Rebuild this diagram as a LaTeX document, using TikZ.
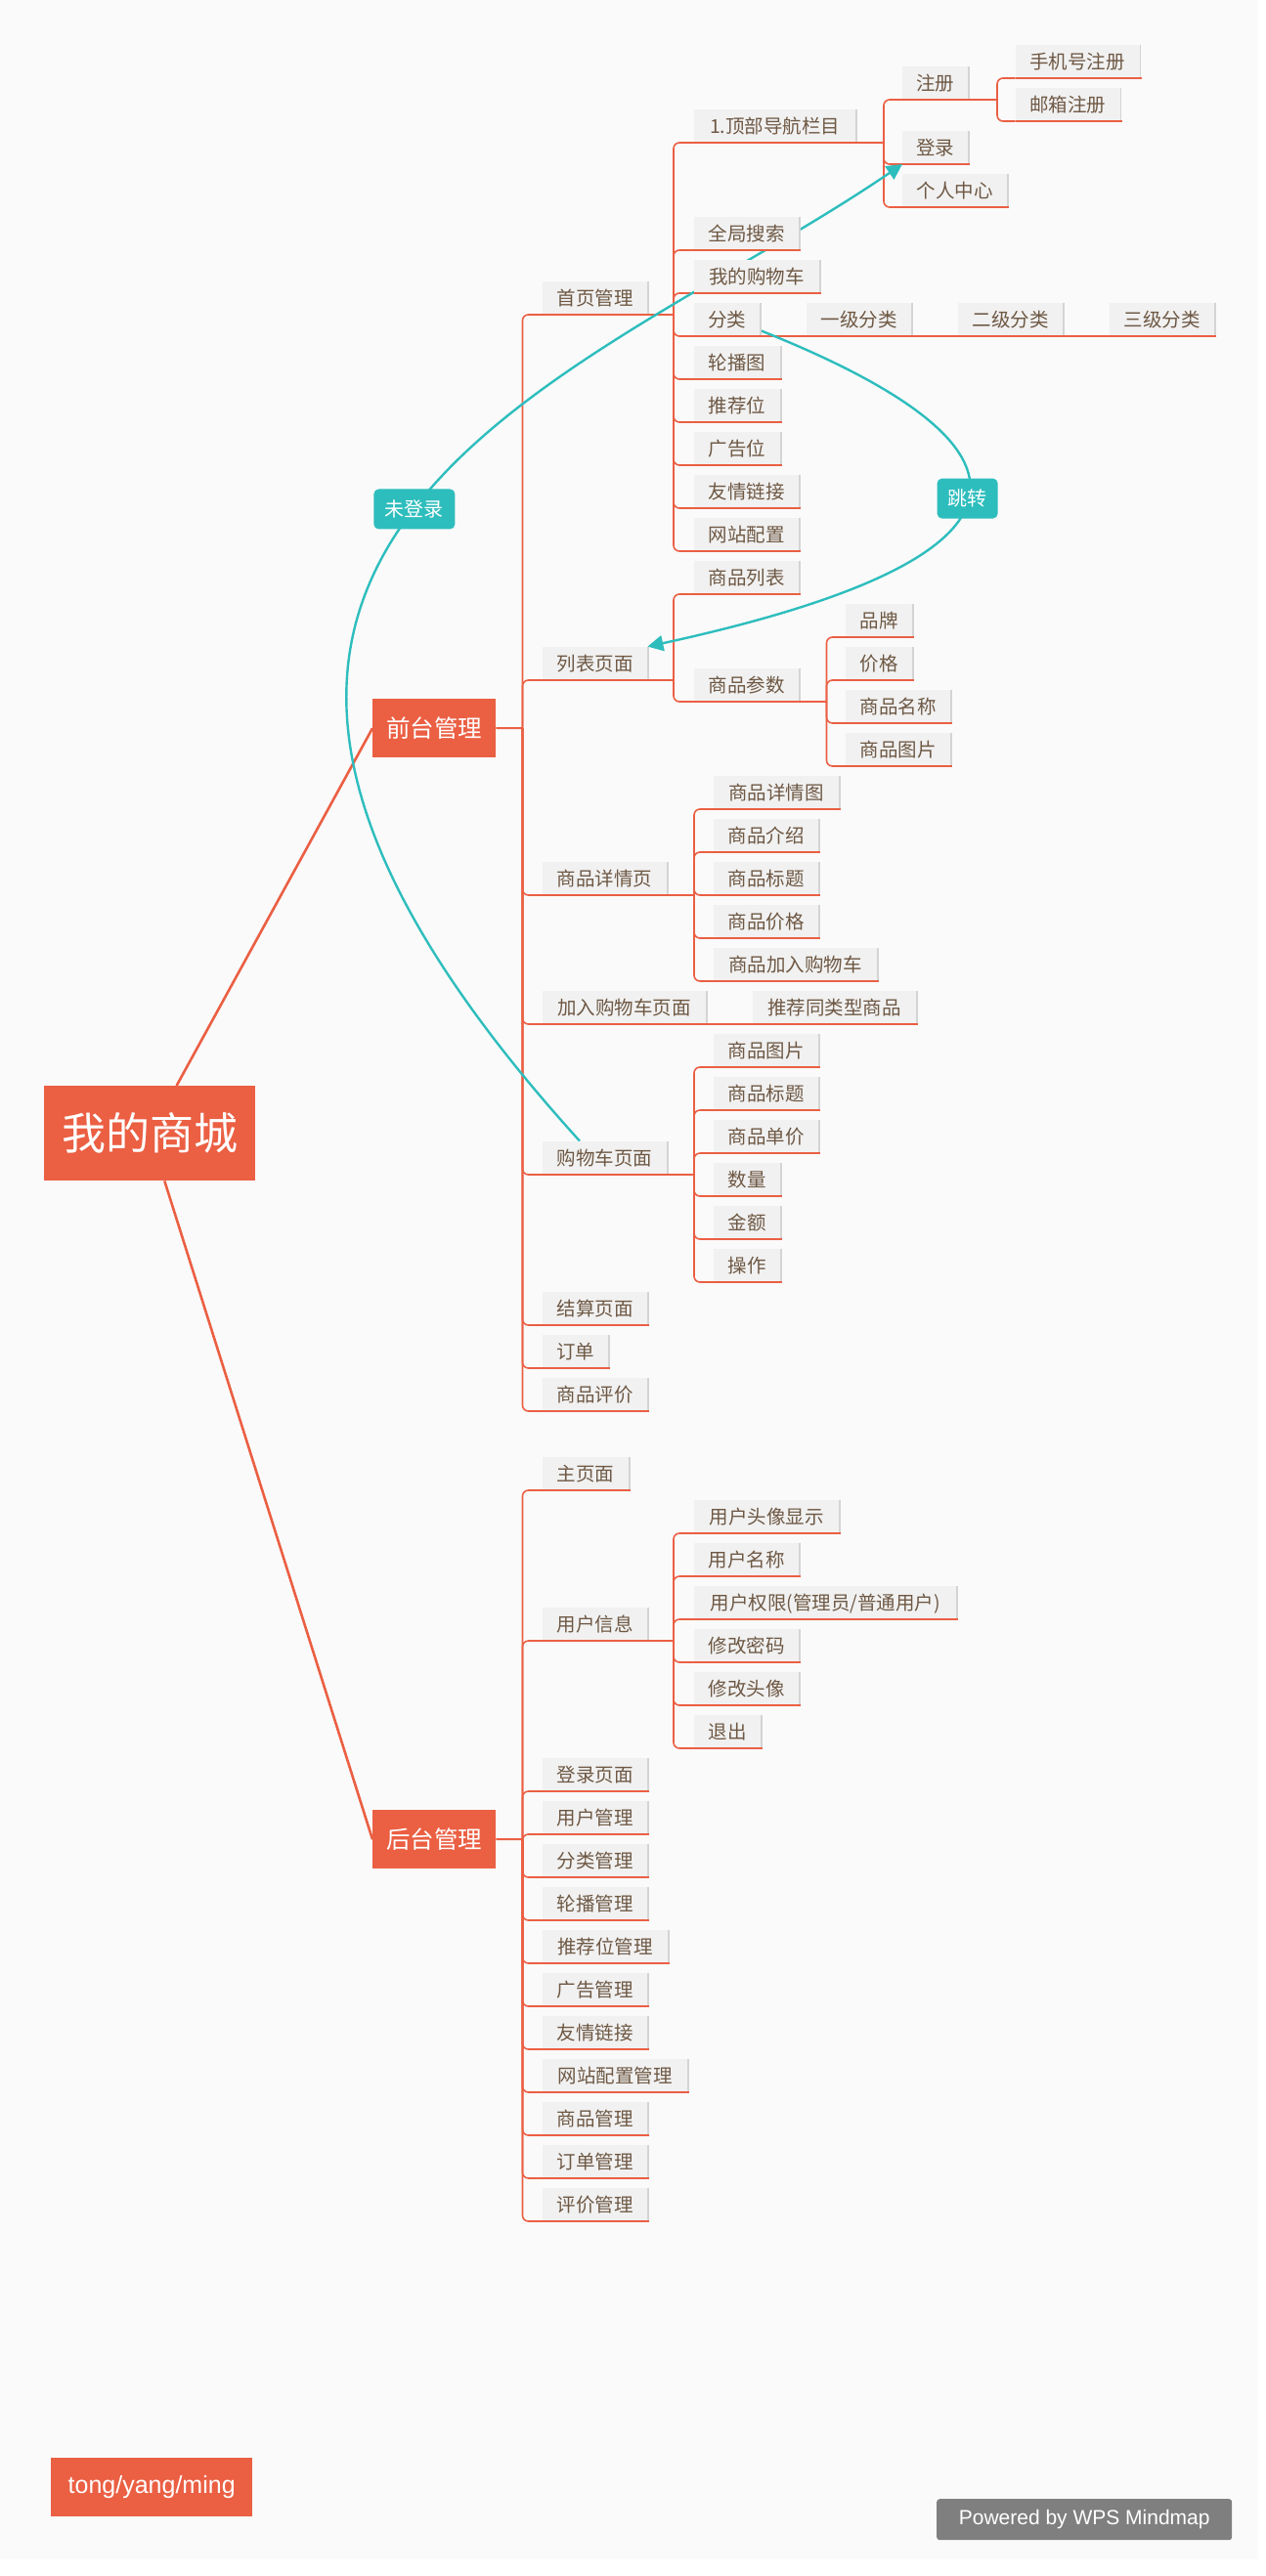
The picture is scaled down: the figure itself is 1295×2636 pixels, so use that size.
\documentclass[tikz,border=0pt]{standalone}
\usepackage{fontspec}
\setmainfont{Liberation Sans}
\newfontfamily\cjk{Noto Sans CJK SC}
\usetikzlibrary{arrows.meta}
\definecolor{bgc}{HTML}{FAFAFA}
\definecolor{orangec}{HTML}{EB5F43}
\definecolor{boxfill}{HTML}{F1F1F1}
\definecolor{shadowc}{HTML}{D4D4D4}
\definecolor{txtc}{HTML}{6E5844}
\definecolor{tealc}{HTML}{2EBDBD}
\definecolor{grayc}{HTML}{7F7F7F}
\pgfdeclarelayer{bg}
\pgfdeclarelayer{curves}
\pgfdeclarelayer{fg}
\pgfsetlayers{bg,curves,main,fg}
\tikzset{
  topic/.style={anchor=south west, fill=boxfill, text=txtc,
    font=\cjk\fontsize{19.5pt}{21pt}\selectfont, inner xsep=0pt, inner ysep=0pt,
    minimum height=34pt, text height=15.6pt, text depth=1pt},
  maintopic/.style={anchor=north west, fill=orangec, text=white,
    font=\cjk\fontsize{24.5pt}{26pt}\selectfont, inner xsep=0pt, inner ysep=0pt,
    minimum width=126pt, minimum height=60pt, text height=19.6pt, text depth=1.2pt},
  tlabel/.style={fill=tealc, text=white, rounded corners=5pt,
    font=\cjk\fontsize{20pt}{22pt}\selectfont, inner xsep=0pt, inner ysep=0pt,
    minimum height=41pt, text height=16pt, text depth=1pt},
  branch/.style={draw=orangec, line width=1.6pt},
  mainline/.style={draw=orangec, line width=2.6pt},
  rel/.style={draw=tealc, line width=2.4pt, -{Triangle[length=16pt,width=16pt]}},
  uline/.style={draw=orangec, line width=1.8pt},
  shade/.style={draw=shadowc, line width=1.5pt}
}
\begin{document}
\begin{tikzpicture}[x=1pt,y=-1pt]
\useasboundingbox (0,0) rectangle (1295,2636);

% ---------- root and main topics ----------
\node[anchor=north west, fill=orangec, text=white, font=\cjk\fontsize{45pt}{48pt}\selectfont,
  inner sep=0pt, minimum width=216pt, minimum height=97pt, text height=36pt, text depth=2pt]
  (root) at (45,1111) {我的商城};
\node[maintopic] (qt) at (381,715) {前台管理};
\node[maintopic] (ht) at (381,1852) {后台管理};

% ---------- front end level 1 ----------
\node[topic, minimum width=107pt] (syg) at (555,322) {首页管理};
\node[topic, minimum width=107pt] (lbym) at (555,696) {列表页面};
\node[topic, minimum width=127pt] (spxqy) at (555,916) {商品详情页};
\node[topic, minimum width=167pt] (jrgwcym) at (555,1048) {加入购物车页面};
\node[topic, minimum width=127pt] (gwcym) at (555,1202) {购物车页面};
\node[topic, minimum width=107pt] (jsym) at (555,1356) {结算页面};
\node[topic, minimum width=67pt] (dd) at (555,1400) {订单};
\node[topic, minimum width=107pt] (sppj) at (555,1444) {商品评价};

% ---------- home page ----------
\node[topic, minimum width=165pt] (dbdh) at (710,146) {1.顶部导航栏目};
\node[topic, minimum width=107pt] (qjss) at (710,256) {全局搜索};
\node[topic, minimum width=128pt] (wdgwc) at (710,300) {我的购物车};
\node[topic, minimum width=67pt] (fl) at (710,344) {分类};
\node[topic, minimum width=88pt] (lbt) at (710,388) {轮播图};
\node[topic, minimum width=88pt] (tjw) at (710,432) {推荐位};
\node[topic, minimum width=88pt] (ggw) at (710,476) {广告位};
\node[topic, minimum width=107pt] (yqlj) at (710,520) {友情链接};
\node[topic, minimum width=107pt] (wzpz) at (710,564) {网站配置};

\node[topic, minimum width=67pt] (zc) at (923,102) {注册};
\node[topic, minimum width=67pt] (dl) at (923,168) {登录};
\node[topic, minimum width=107pt] (grzx) at (923,212) {个人中心};
\node[topic, minimum width=127pt] (sjhzc) at (1038.5,80) {手机号注册};
\node[topic, minimum width=107pt] (yxzc) at (1038.5,124) {邮箱注册};

\node[topic, minimum width=107pt] (yjfl) at (825,344) {一级分类};
\node[topic, minimum width=107pt] (ejfl) at (980,344) {二级分类};
\node[topic, minimum width=107pt] (sjfl) at (1135,344) {三级分类};

% ---------- list page ----------
\node[topic, minimum width=107pt] (splb) at (710,608) {商品列表};
\node[topic, minimum width=107pt] (spcs) at (710,718) {商品参数};
\node[topic, minimum width=68pt] (pp) at (865,652) {品牌};
\node[topic, minimum width=68pt] (jg) at (865,696) {价格};
\node[topic, minimum width=107pt] (spmc) at (865,740) {商品名称};
\node[topic, minimum width=107pt] (sptp) at (865,784) {商品图片};

% ---------- detail page ----------
\node[topic, minimum width=128pt] (spxqt) at (730,828) {商品详情图};
\node[topic, minimum width=107pt] (spjs) at (730,872) {商品介绍};
\node[topic, minimum width=107pt] (spbt) at (730,916) {商品标题};
\node[topic, minimum width=107pt] (spjg) at (730,960) {商品价格};
\node[topic, minimum width=167pt] (spjrgwc) at (730,1004) {商品加入购物车};

\node[topic, minimum width=167pt] (tjtlx) at (770,1048) {推荐同类型商品};

% ---------- cart page ----------
\node[topic, minimum width=107pt] (cspt) at (730,1092) {商品图片};
\node[topic, minimum width=107pt] (csbt) at (730,1136) {商品标题};
\node[topic, minimum width=107pt] (csdj) at (730,1180) {商品单价};
\node[topic, minimum width=68pt] (csl) at (730,1224) {数量};
\node[topic, minimum width=68pt] (cje) at (730,1268) {金额};
\node[topic, minimum width=68pt] (ccz) at (730,1312) {操作};

% ---------- back end ----------
\node[topic, minimum width=88pt] (zym) at (555,1525) {主页面};
\node[topic, minimum width=107pt] (yhxx) at (555,1679) {用户信息};
\node[topic, minimum width=107pt] (dlym) at (555,1833) {登录页面};
\node[topic, minimum width=107pt] (yhgl) at (555,1877) {用户管理};
\node[topic, minimum width=107pt] (flgl) at (555,1921) {分类管理};
\node[topic, minimum width=107pt] (lbgl) at (555,1965) {轮播管理};
\node[topic, minimum width=128pt] (tjwgl) at (555,2009) {推荐位管理};
\node[topic, minimum width=107pt] (gggl) at (555,2053) {广告管理};
\node[topic, minimum width=107pt] (yqljb) at (555,2097) {友情链接};
\node[topic, minimum width=148pt] (wzpzgl) at (555,2141) {网站配置管理};
\node[topic, minimum width=107pt] (spgl) at (555,2185) {商品管理};
\node[topic, minimum width=107pt] (ddgl) at (555,2229) {订单管理};
\node[topic, minimum width=107pt] (pjgl) at (555,2273) {评价管理};

\node[topic, minimum width=148pt] (yhtx) at (710,1569) {用户头像显示};
\node[topic, minimum width=107pt] (yhmc) at (710,1613) {用户名称};
\node[topic, minimum width=268pt] (yhqx) at (710,1657) {用户权限(管理员/普通用户)};
\node[topic, minimum width=107pt] (xgmm) at (710,1701) {修改密码};
\node[topic, minimum width=107pt] (xgtx) at (710,1745) {修改头像};
\node[topic, minimum width=68pt] (tc) at (710,1789) {退出};

% ---------- footer ----------
\node[anchor=north west, fill=orangec, text=white, font=\fontsize{25pt}{27pt}\selectfont,
  inner sep=0pt, minimum width=206pt, minimum height=60pt, text height=18pt, text depth=5pt]
  (author) at (52,2515) {tong/yang/ming};
\node[anchor=north west, fill=grayc, text=white, rounded corners=3pt, font=\fontsize{21pt}{23pt}\selectfont,
  inner sep=0pt, minimum width=302pt, minimum height=42pt, text height=15pt, text depth=4pt]
  (powered) at (958,2557) {Powered by WPS Mindmap};

% ---------- junction points ----------
\coordinate (jqt) at (534.5,745);
\coordinate (jht) at (534.5,1882);
\coordinate (jsy) at (689,322);
\coordinate (jdb) at (904,146);
\coordinate (jzc) at (1020,102);
\coordinate (jlb) at (689,696);
\coordinate (jcs) at (845.5,718);
\coordinate (jxq) at (710,916);
\coordinate (jgwc) at (710,1202);
\coordinate (jyh) at (689,1679);

% ---------- background layer: page and branches ----------
\begin{pgfonlayer}{bg}
\fill[white] (0,0) rectangle (1295,2636);
\fill[bgc] (0,0) rectangle (1287,2619);
\draw[mainline] ([xshift=135.6pt]root.north west) -- (qt.west);
\draw[mainline] ([xshift=123.3pt]root.south west) -- (ht.west);
\draw[branch, line width=2pt] (qt.east) -- (jqt);
\draw[branch, line width=2pt] (ht.east) -- (jht);
\foreach \c in {syg,lbym,spxqy,jrgwcym,gwcym,jsym,dd,sppj}
  \draw[branch, rounded corners=6pt] (jqt) |- (\c.south west);
\foreach \c in {zym,yhxx,dlym,yhgl,flgl,lbgl,tjwgl,gggl,yqljb,wzpzgl,spgl,ddgl,pjgl}
  \draw[branch, rounded corners=6pt] (jht) |- (\c.south west);
\draw[branch] (syg.south east) -- (jsy);
\foreach \c in {dbdh,qjss,wdgwc,fl,lbt,tjw,ggw,yqlj,wzpz}
  \draw[branch, rounded corners=6pt] (jsy) |- (\c.south west);
\draw[branch] (dbdh.south east) -- (jdb);
\foreach \c in {zc,dl,grzx}
  \draw[branch, rounded corners=6pt] (jdb) |- (\c.south west);
\draw[branch] (zc.south east) -- (jzc);
\foreach \c in {sjhzc,yxzc}
  \draw[branch, rounded corners=6pt] (jzc) |- (\c.south west);
\draw[branch] (fl.south east) -- (yjfl.south west);
\draw[branch] (yjfl.south east) -- (ejfl.south west);
\draw[branch] (ejfl.south east) -- (sjfl.south west);
\draw[branch] (lbym.south east) -- (jlb);
\foreach \c in {splb,spcs}
  \draw[branch, rounded corners=6pt] (jlb) |- (\c.south west);
\draw[branch] (spcs.south east) -- (jcs);
\foreach \c in {pp,jg,spmc,sptp}
  \draw[branch, rounded corners=6pt] (jcs) |- (\c.south west);
\draw[branch] (spxqy.south east) -- (jxq);
\foreach \c in {spxqt,spjs,spbt,spjg,spjrgwc}
  \draw[branch, rounded corners=6pt] (jxq) |- (\c.south west);
\draw[branch] (jrgwcym.south east) -- (tjtlx.south west);
\draw[branch] (gwcym.south east) -- (jgwc);
\foreach \c in {cspt,csbt,csdj,csl,cje,ccz}
  \draw[branch, rounded corners=6pt] (jgwc) |- (\c.south west);
\draw[branch] (yhxx.south east) -- (jyh);
\foreach \c in {yhtx,yhmc,yhqx,xgmm,xgtx,tc}
  \draw[branch, rounded corners=6pt] (jyh) |- (\c.south west);
\end{pgfonlayer}

% ---------- relationship curves ----------
\begin{pgfonlayer}{curves}
\draw[rel] ([xshift=38pt]gwcym.north west) .. controls (33,550) and (592,394) .. (dl.south west)
  node[pos=0.5, tlabel, minimum width=83pt] (wdl) {未登录};
\draw[rel] ([yshift=6pt]fl.south east) .. controls (1076,457) and (1083,570) .. (lbym.north east)
  node[pos=0.5, tlabel, minimum width=62pt] (tz) {跳转};
\end{pgfonlayer}

% ---------- underlines and right-edge shading ----------
\begin{pgfonlayer}{fg}
\foreach \n in {syg,lbym,spxqy,jrgwcym,gwcym,jsym,dd,sppj,
  dbdh,qjss,wdgwc,fl,lbt,tjw,ggw,yqlj,wzpz,zc,dl,grzx,sjhzc,yxzc,yjfl,ejfl,sjfl,
  splb,spcs,pp,jg,spmc,sptp,spxqt,spjs,spbt,spjg,spjrgwc,tjtlx,
  cspt,csbt,csdj,csl,cje,ccz,
  zym,yhxx,dlym,yhgl,flgl,lbgl,tjwgl,gggl,yqljb,wzpzgl,spgl,ddgl,pjgl,
  yhtx,yhmc,yhqx,xgmm,xgtx,tc} {
  \draw[shade] ([xshift=0.75pt]\n.north east) -- ([xshift=0.75pt]\n.south east);
  \draw[uline] (\n.south west) -- ([xshift=2pt]\n.south east);
}
\end{pgfonlayer}
\end{tikzpicture}
\end{document}
